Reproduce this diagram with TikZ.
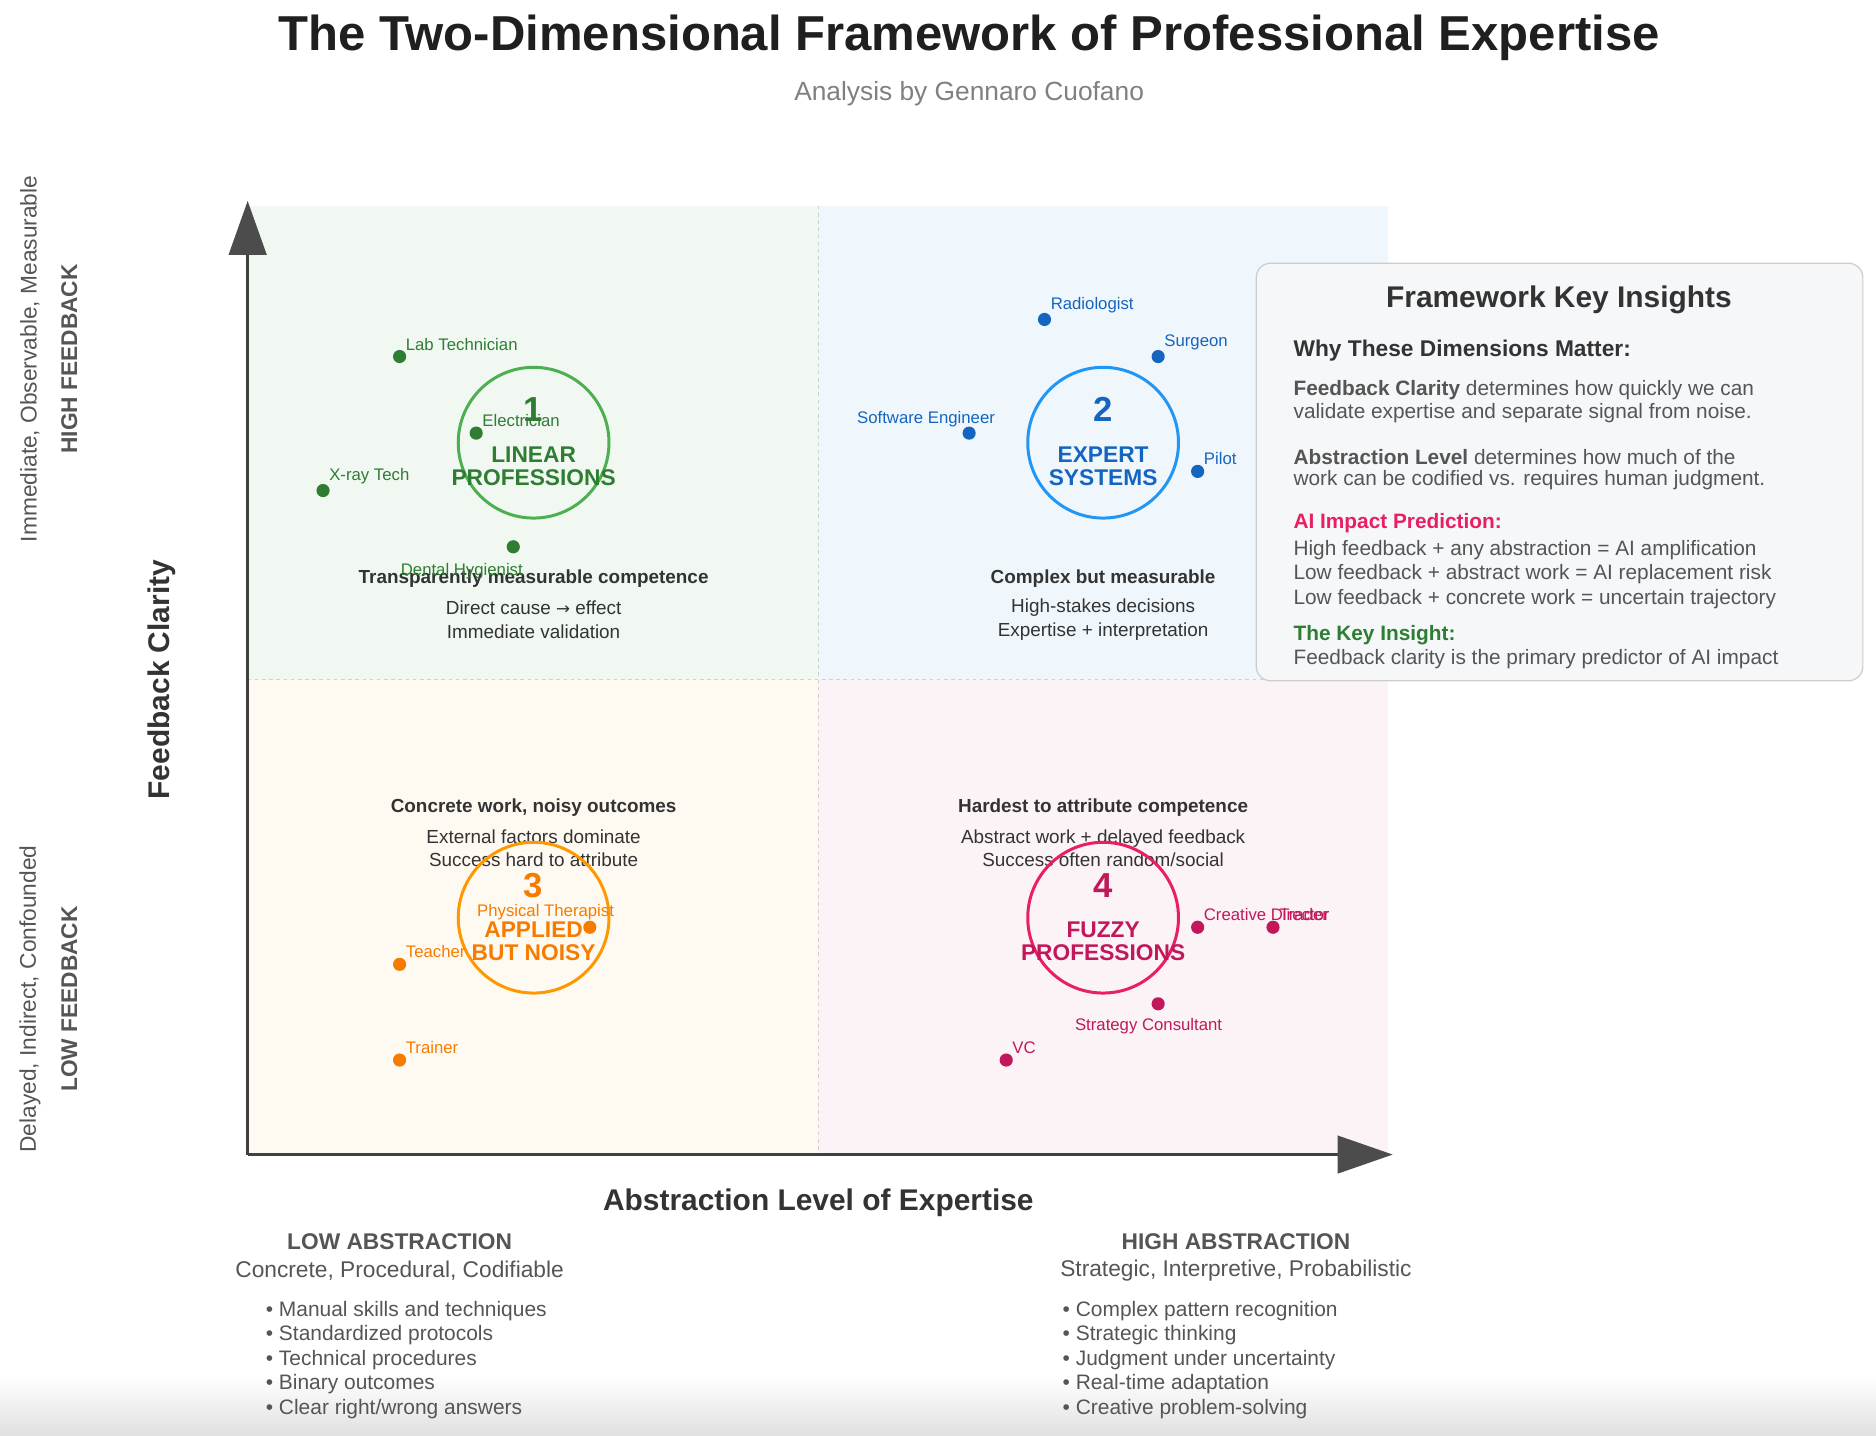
\documentclass[tikz,border=0pt]{standalone}
\usepackage{fontspec}
\setmainfont{Liberation Sans}
\newfontfamily\djv{DejaVu Sans}
\newcommand{\fs}[1]{\fontsize{#1}{#1}\selectfont}
\definecolor{cg}{HTML}{2E7D32}\definecolor{cgc}{HTML}{4CAF50}
\definecolor{cb}{HTML}{1565C0}\definecolor{cbc}{HTML}{2196F3}
\definecolor{co}{HTML}{F57C00}\definecolor{coc}{HTML}{FF9800}
\definecolor{cp}{HTML}{C2185B}\definecolor{cpc}{HTML}{E91E63}
\definecolor{tx}{HTML}{333333}\definecolor{gy}{HTML}{555555}
\definecolor{q1}{HTML}{F1F8F2}\definecolor{q2}{HTML}{F0F7FC}
\definecolor{q3}{HTML}{FFFAF1}\definecolor{q4}{HTML}{FBF3F6}
\definecolor{bx}{HTML}{F5F7F9}
\begin{document}
\begin{tikzpicture}[x=1pt,y=-1pt,
 dot/.style={circle,fill=#1,inner sep=0pt,minimum size=11pt},
 lab/.style={font=\fs{14},text=#1,inner sep=1pt},
 qt/.style={font=\fs{15.8},text=tx,align=center},
 qb/.style={font=\fs{15.8}\bfseries,text=tx},
 ring/.style={circle,draw=#1,line width=2.5pt,minimum size=126pt,inner sep=0pt},
 num/.style={font=\fs{29}\bfseries,text=#1},
 ql/.style={font=\fs{19}\bfseries,text=#1,align=center},
 ins/.style={font=\fs{17.4},text=gy,anchor=west,inner sep=0pt},
 bul/.style={font=\fs{17.5},text=gy,anchor=west,inner sep=0pt}]
\useasboundingbox (0,0) rectangle (1568,1200);
\fill[white] (0,0) rectangle (1568,1200);
\shade[top color=white,bottom color=black!12] (0,1150) rectangle (1568,1200);
% quadrants
\fill[q1] (207,172) rectangle (684,568);
\fill[q2] (684,172) rectangle (1160,568);
\fill[q3] (207,568) rectangle (684,965);
\fill[q4] (684,568) rectangle (1160,965);
\draw[black!18,dashed,line width=1pt] (684,172) -- (684,965) (207,568) -- (1160,568);
% axes
\coordinate (o) at (207,965);
\coordinate (yt) at (207,200); \coordinate (xt) at (1130,965);
\draw[black!75,line width=3pt] (o) -- (yt);
\draw[black!75,line width=3pt] (o) -- (xt);
\fill[black!70] (207,168) -- (223,213) -- (191,213) -- cycle;
\fill[black!70] (1164,965) -- (1118,949) -- (1118,981) -- cycle;
% titles
\node[font=\fs{41}\bfseries,text=black!88] (title) at (810,32) {The Two-Dimensional Framework of Professional Expertise};
\node[font=\fs{22}\bfseries\mdseries,text=black!50] (sub) at (810,78) {Analysis by Gennaro Cuofano};
\node[font=\fs{25}\bfseries,text=tx,rotate=90] (yl) at (135,568) {Feedback Clarity};
\node[font=\fs{25}\bfseries,text=tx] (xl) at (684,1005) {Abstraction Level of Expertise};
\node[font=\fs{19}\bfseries,text=gy,rotate=90] (hf) at (58,300) {HIGH FEEDBACK};
\node[font=\fs{19},text=gy,rotate=90] (hf2) at (25,300) {Immediate, Observable, Measurable};
\node[font=\fs{19}\bfseries,text=gy,rotate=90] (lf) at (58,835) {LOW FEEDBACK};
\node[font=\fs{19},text=gy,rotate=90] (lf2) at (25,835) {Delayed, Indirect, Confounded};
\node[font=\fs{19}\bfseries,text=gy] (la) at (334,1038) {LOW ABSTRACTION};
\node[font=\fs{19},text=gy] (la2) at (334,1062) {Concrete, Procedural, Codifiable};
\node[font=\fs{19}\bfseries,text=gy] (ha) at (1033,1038) {HIGH ABSTRACTION};
\node[font=\fs{19},text=gy] (ha2) at (1033,1062) {Strategic, Interpretive, Probabilistic};
\foreach \t [count=\i] in {Manual skills and techniques,Standardized protocols,Technical procedures,Binary outcomes,Clear right/wrong answers}
  \node[bul] (lb\i) at (222,1075+20.5*\i) {• \t};
\foreach \t [count=\i] in {Complex pattern recognition,Strategic thinking,Judgment under uncertainty,Real-time adaptation,Creative problem-solving}
  \node[bul] (hb\i) at (888,1075+20.5*\i) {• \t};
% quadrant texts
\node[qb] (t1) at (446,484) {Transparently measurable competence};
\node[qt] (t1b) at (446,518) {Direct cause {\djv\fs{14}→} effect\\[4pt]Immediate validation};
\node[qb] (t2) at (922,484) {Complex but measurable};
\node[qt] (t2b) at (922,518) {High-stakes decisions\\[4pt]Expertise + interpretation};
\node[qb] (t3) at (446,675) {Concrete work, noisy outcomes};
\node[qt] (t3b) at (446,709) {External factors dominate\\[4pt]Success hard to attribute};
\node[qb] (t4) at (922,675) {Hardest to attribute competence};
\node[qt] (t4b) at (922,709) {Abstract work + delayed feedback\\[4pt]Success often random/social};
% circles
\node[ring=cgc] (c1) at (446,370) {};
\node[num=cg] at (446,342) {1};
\node[ql=cg] at (446,390) {LINEAR\\PROFESSIONS};
\node[ring=cbc] (c2) at (922,370) {};
\node[num=cb] at (922,342) {2};
\node[ql=cb] at (922,390) {EXPERT\\SYSTEMS};
\node[ring=coc] (c3) at (446,767) {};
\node[num=co] at (446,740) {3};
\node[ql=co] at (446,787) {APPLIED\\BUT NOISY};
\node[ring=cpc] (c4) at (922,767) {};
\node[num=cp] at (922,740) {4};
\node[ql=cp] at (922,787) {FUZZY\\PROFESSIONS};
% dots
\node[dot=cg] (d1) at (334,298) {}; \node[lab=cg,anchor=south west] at (d1.north east) {Lab Technician};
\node[dot=cg] (d2) at (398,362) {}; \node[lab=cg,anchor=south west] at (d2.north east) {Electrician};
\node[dot=cg] (d3) at (270,410) {}; \node[lab=cg,anchor=south west] at (d3.north east) {X-ray Tech};
\node[dot=cg] (d4) at (429,457) {}; \node[lab=cg] at (386,477) {Dental Hygienist};
\node[dot=cb] (e1) at (873,267) {}; \node[lab=cb,anchor=south west] at (e1.north east) {Radiologist};
\node[dot=cb] (e2) at (968,298) {}; \node[lab=cb,anchor=south west] at (e2.north east) {Surgeon};
\node[dot=cb] (e3) at (810,362) {}; \node[lab=cb] at (774,350) {Software Engineer};
\node[dot=cb] (e4) at (1001,394) {}; \node[lab=cb,anchor=south west] at (e4.north east) {Pilot};
\node[dot=co] (f1) at (493,775) {}; \node[lab=co] at (456,762) {Physical Therapist};
\node[dot=co] (f2) at (334,806) {}; \node[lab=co,anchor=south west] at (f2.north east) {Teacher};
\node[dot=co] (f3) at (334,886) {}; \node[lab=co,anchor=south west] at (f3.north east) {Trainer};
\node[dot=cp] (g1) at (1001,775) {}; \node[lab=cp,anchor=south west] at (g1.north east) {Creative Director};
\node[dot=cp] (g2) at (1064,775) {}; \node[lab=cp,anchor=south west] at (g2.north east) {Trader};
\node[dot=cp] (g3) at (968,839) {}; \node[lab=cp] at (960,858) {Strategy Consultant};
\node[dot=cp] (g4) at (841,886) {}; \node[lab=cp,anchor=south west] at (g4.north east) {VC};
% insights box
\draw[black!20,fill=bx,rounded corners=12pt,line width=1pt] (1050,220) rectangle (1557,569);
\node[font=\fs{25}\bfseries,text=tx] (it) at (1303,251) {Framework Key Insights};
\node[ins,font=\fs{19}\bfseries,text=tx] at (1081,293) {Why These Dimensions Matter:};
\node[ins] at (1081,326) {\textbf{Feedback Clarity} determines how quickly we can};
\node[ins] at (1081,345) {validate expertise and separate signal from noise.};
\node[ins] at (1081,382) {\textbf{Abstraction Level} determines how much of the};
\node[ins] at (1081,401) {work can be codified vs. requires human judgment.};
\node[ins,text=cpc,font=\fs{17.4}\bfseries] at (1081,437) {AI Impact Prediction:};
\node[ins] at (1081,460) {High feedback + any abstraction = AI amplification};
\node[ins] at (1081,480) {Low feedback + abstract work = AI replacement risk};
\node[ins] at (1081,501) {Low feedback + concrete work = uncertain trajectory};
\node[ins,text=cg,font=\fs{17.4}\bfseries] at (1081,531) {The Key Insight:};
\node[ins] at (1081,551) {Feedback clarity is the primary predictor of AI impact};
\end{tikzpicture}
\end{document}
